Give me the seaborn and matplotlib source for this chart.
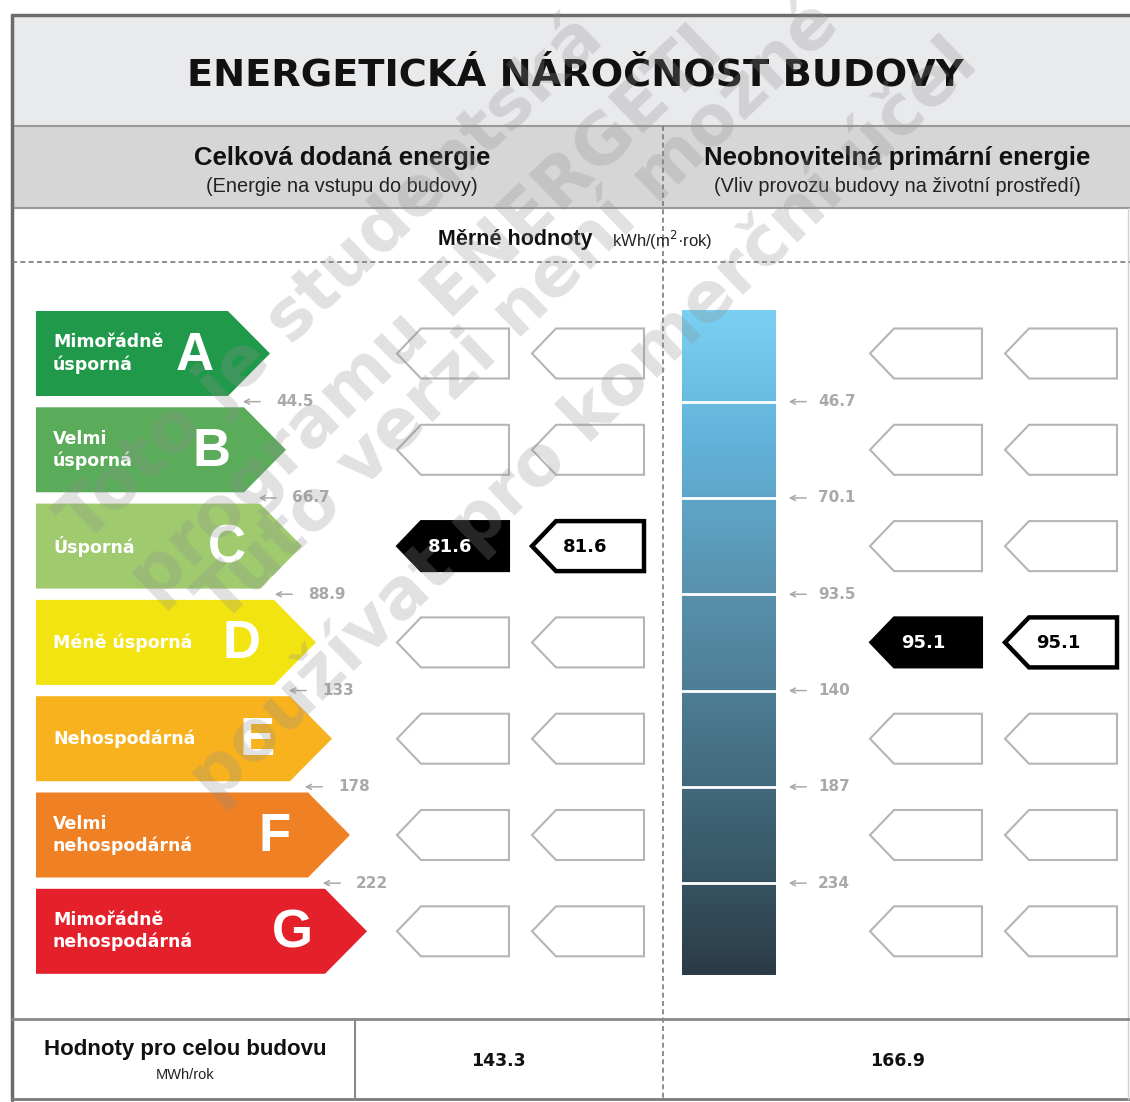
import numpy as np
import matplotlib
matplotlib.use('Agg')
import matplotlib.pyplot as plt
import seaborn as sns
from matplotlib.patches import Polygon, Rectangle

# --- data ---
tridy = ['A', 'B', 'C', 'D', 'E', 'F', 'G']
nazvy_trid = ['Mimořádně\núsporná', 'Velmi\núsporná', 'Úsporná', 'Méně úsporná',
              'Nehospodárná', 'Velmi\nnehospodárná', 'Mimořádně\nnehospodárná']
barvy_trid = ['#21994a', '#5aab5a', '#9fcb6e', '#f2e410', '#f7b21d', '#ef8024', '#e4202a']
hranice_dodana = [44.5, 66.7, 88.9, 133, 178, 222]
hranice_primarni = [46.7, 70.1, 93.5, 140, 187, 234]
merna_dodana = 81.6
merna_primarni = 95.1
celkem_dodana = 143.3
celkem_primarni = 166.9

titulek = 'ENERGETICKÁ NÁROČNOST BUDOVY'
sloupce = ['Celková dodaná energie', 'Neobnovitelná primární energie']
podtitulky = ['(Energie na vstupu do budovy)', '(Vliv provozu budovy na životní prostředí)']
vodoznak = ['Toto je studentská', 'programu ENERGETI',
            'Tuto verzi není možné', 'používat pro komerční účel']

sns.set_theme(style='white')
plt.rcParams['font.family'] = ['DejaVu Sans']

fig = plt.figure(figsize=(11.3, 11.02), dpi=100)
ax = fig.add_axes([0, 0, 1, 1])
ax.set_xlim(0, 1130)
ax.set_ylim(1102, 0)
ax.axis('off')

ARIAL = 'Liberation Sans'
SEDA = '#a9a9a9'

# --- ramecek a zahlavi ---
ax.add_patch(Rectangle((12, 15), 1130, 111, facecolor='#e9eaec', edgecolor='none'))
ax.add_patch(Rectangle((12, 126), 1130, 82, facecolor='#d6d6d6', edgecolor='none'))
ax.plot([12, 1130], [126, 126], color='#9a9a9a', lw=1.5)
ax.plot([12, 1130], [208, 208], color='#9a9a9a', lw=1.5)
ax.plot([12, 1130], [15, 15], color='#6c6c6c', lw=2.5)
ax.plot([12, 12], [15, 1100], color='#6c6c6c', lw=2.5)
ax.plot([12, 1130], [1099, 1099], color='#7a7a7a', lw=2.0)
ax.plot([1128, 1128], [208, 1099], color='#d0d0d0', lw=1.0)

ax.text(575, 76, titulek, ha='center', va='center', fontsize=27.5, fontweight='bold', color='#111111')

stredy = [342, 897]
for sx, nadpis, pod in zip(stredy, sloupce, podtitulky):
    ax.text(sx, 158, nadpis, ha='center', va='center', fontsize=18.5, fontweight='bold',
            family=ARIAL, color='#111111')
    ax.text(sx, 187, pod, ha='center', va='center', fontsize=14.3, family=ARIAL, color='#222222')

ax.text(592, 239, 'Měrné hodnoty', ha='right', va='center', fontsize=15.5, fontweight='bold',
        family=ARIAL, color='#111111')
ax.text(612, 240, 'kWh/(m$^2$·rok)', ha='left', va='center', fontsize=12, family=ARIAL, color='#222222')

ax.plot([12, 1130], [262, 262], color='#7a7a7a', lw=1.2, ls=(0, (3, 2)))
ax.plot([663, 663], [126, 1099], color='#7a7a7a', lw=1.2, ls=(0, (3, 2)))

# --- tridy (sipky vlevo) ---
x0 = 36
vyska = 85
krok = 96.3
hrot = 42
spicky = [270, 286, 302, 316, 332, 350, 367]
stredy_radku = [311 + krok * i + vyska / 2 for i in range(len(tridy))]

for i, (t, nazev, barva) in enumerate(zip(tridy, nazvy_trid, barvy_trid)):
    yc = stredy_radku[i]
    sp = spicky[i]
    poly = [(x0, yc - vyska / 2), (sp - hrot, yc - vyska / 2), (sp, yc),
            (sp - hrot, yc + vyska / 2), (x0, yc + vyska / 2)]
    ax.add_patch(Polygon(poly, closed=True, facecolor=barva, edgecolor='none'))
    ax.text(53, yc, nazev, ha='left', va='center', fontsize=12.5, fontweight='bold',
            color='white', linespacing=1.25)
    ax.text(sp - 75, yc + 2, t, ha='center', va='center', fontsize=38, fontweight='bold',
            family=ARIAL, color='white')

# hranice trid vlevo
for i, h in enumerate(hranice_dodana):
    yb = (stredy_radku[i] + stredy_radku[i + 1]) / 2
    xa = spicky[i] - 30
    ax.annotate('', xy=(xa, yb), xytext=(xa + 23, yb),
                arrowprops=dict(arrowstyle='->, head_length=0.3, head_width=0.15', color=SEDA, lw=1.1))
    ax.text(xa + 36, yb, f'{h:g}', ha='left', va='center', fontsize=11, fontweight='bold', color=SEDA)

# --- gradientni sloupec vpravo ---
mapa = sns.blend_palette(['#7ad0f2', '#62b2d9', '#5a94b1', '#4b7a90', '#3b5d6d', '#2b3b47'], as_cmap=True)
g_top = 310
g_bot = 975
ax.imshow(np.linspace(0, 1, 256).reshape(-1, 1), cmap=mapa, aspect='auto',
          extent=(682, 776, g_bot, g_top), zorder=1)
for i, h in enumerate(hranice_primarni):
    yb = (stredy_radku[i] + stredy_radku[i + 1]) / 2
    ax.plot([682, 776], [yb, yb], color='white', lw=2, zorder=2)
    ax.annotate('', xy=(786, yb), xytext=(809, yb),
                arrowprops=dict(arrowstyle='->, head_length=0.3, head_width=0.15', color=SEDA, lw=1.1))
    ax.text(818, yb, f'{h:g}', ha='left', va='center', fontsize=11, fontweight='bold', color=SEDA)


# --- ukazatele ---
def ukazatel(xs, yc, typ, text=None):
    hr, vy, sir = 24, 50, 112
    poly = [(xs, yc), (xs + hr, yc - vy / 2), (xs + sir, yc - vy / 2),
            (xs + sir, yc + vy / 2), (xs + hr, yc + vy / 2)]
    if typ == 'prazdny':
        ax.add_patch(Polygon(poly, closed=True, facecolor='white', edgecolor='#b5b5b5', lw=1.5))
    elif typ == 'plny':
        ax.add_patch(Polygon(poly, closed=True, facecolor='black', edgecolor='black', lw=1.5))
        ax.text(xs + 53, yc + 1, text, ha='center', va='center', fontsize=13, fontweight='bold', color='white')
    else:
        ax.add_patch(Polygon(poly, closed=True, facecolor='white', edgecolor='black', lw=3.2))
        ax.text(xs + 53, yc + 1, text, ha='center', va='center', fontsize=13, fontweight='bold', color='black')


def trida_hodnoty(v, hranice):
    return int(np.searchsorted(hranice, v))


i_dod = trida_hodnoty(merna_dodana, hranice_dodana)
i_pri = trida_hodnoty(merna_primarni, hranice_primarni)

for i, yc in enumerate(stredy_radku):
    if i == i_dod:
        ukazatel(397, yc, 'plny', f'{merna_dodana:.1f}')
        ukazatel(532, yc, 'obrys', f'{merna_dodana:.1f}')
    else:
        ukazatel(397, yc, 'prazdny')
        ukazatel(532, yc, 'prazdny')
    if i == i_pri:
        ukazatel(870, yc, 'plny', f'{merna_primarni:.1f}')
        ukazatel(1005, yc, 'obrys', f'{merna_primarni:.1f}')
    else:
        ukazatel(870, yc, 'prazdny')
        ukazatel(1005, yc, 'prazdny')

# --- spodni radek ---
ax.plot([12, 1130], [1019, 1019], color='#8a8a8a', lw=2)
ax.plot([355, 355], [1019, 1099], color='#8a8a8a', lw=1.5)
ax.text(185, 1050, 'Hodnoty pro celou budovu', ha='center', va='center', fontsize=16,
        fontweight='bold', family=ARIAL, color='#111111')
ax.text(185, 1075, 'MWh/rok', ha='center', va='center', fontsize=10.5, family=ARIAL, color='#222222')
ax.text(498, 1061, f'{celkem_dodana:.1f}', ha='center', va='center', fontsize=12.5, fontweight='bold', color='#111111')
ax.text(898, 1061, f'{celkem_primarni:.1f}', ha='center', va='center', fontsize=12.5, fontweight='bold', color='#111111')

# --- vodoznak ---
starty = [(85, 545), (155, 605), (222, 625), (215, 805)]
for (sx, sy), radek in zip(starty, vodoznak):
    ax.text(sx, sy, radek, ha='left', va='baseline', rotation=44, rotation_mode='anchor',
            fontsize=50, fontweight='bold', color='#8f8f8f', alpha=0.27, zorder=10, clip_on=True)

fig.savefig('out.png', dpi=100)
